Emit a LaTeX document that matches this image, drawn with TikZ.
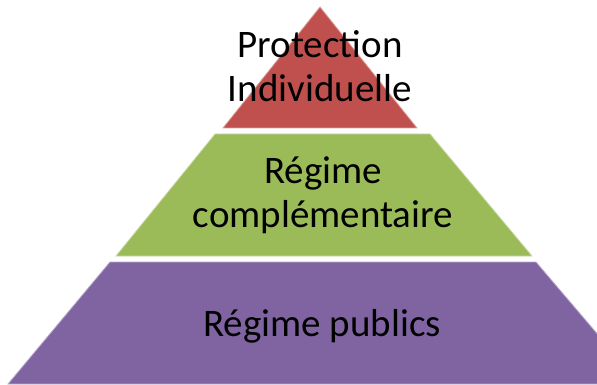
\documentclass[tikz,border=0pt]{standalone}
\usepackage{fontspec}
\setmainfont{Carlito}
\usepackage{tikz}
\definecolor{tierred}{HTML}{C0504D}
\definecolor{tiergreen}{HTML}{9BBB59}
\definecolor{tierpurple}{HTML}{8064A2}

\begin{document}
\begin{tikzpicture}[x=1pt, y=-1pt, every node/.style={align=center, text=black, font=\fontsize{39}{44}\selectfont}, tier/.style={line width=0.8pt}]
				\useasboundingbox (0,0) rectangle (597,385);
				\clip (0,0) rectangle (597,385);
				
				\path[tier, fill=tierred, draw=tierred!55!white] (320,7) -- (417,128) -- (223,128) -- cycle;
				\path[tier, fill=tiergreen, draw=tiergreen!55!white] (215,134) -- (430,134) -- (532,256) -- (116,256) -- cycle;
				\path[tier, fill=tierpurple, draw=tierpurple!55!white] (110,262) -- (536,262) -- (640,384) -- (8,384) -- cycle;
				
				\node (prot) at (320,66){Protection\\Individuelle};
				\node (compl) at (323,195){Régime\\complémentaire};
				\node (publ) at (322,326){Régime publics};
				\end{tikzpicture}
\end{document}
